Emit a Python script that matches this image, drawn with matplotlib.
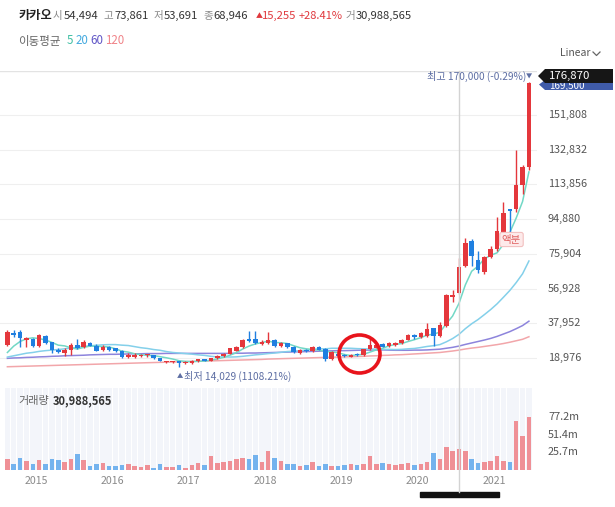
import numpy as np
import matplotlib
matplotlib.use('Agg')
import matplotlib.pyplot as plt
import matplotlib.transforms as mtrans
from matplotlib.patches import Ellipse, Rectangle, Polygon
from matplotlib.lines import Line2D

plt.rcParams['font.family'] = ['Noto Sans CJK KR', 'DejaVu Sans']

# ---------------- data (prices in thousand KRW, volume in millions) ----------------
years = ['2015', '2016', '2017', '2018', '2019', '2020', '2021']
year_pos = [4.5, 16.5, 28.5, 40.5, 52.5, 64.5, 76.5]

open_ = [26.0, 32.8, 33.3, 28.6, 29.3, 25.4, 30.8, 27.7, 23.5, 21.7,
         23.5, 26.2, 25.1, 27.4, 25.8, 23.5, 24.9, 24.2, 22.8, 19.4,
         19.6, 20.0, 20.6, 20.6, 18.9, 16.9, 16.9, 17.2, 16.3, 16.5,
         17.4, 18.2, 17.6, 18.8, 20.2, 21.3, 23.0, 24.8, 29.5, 29.5,
         26.8, 27.2, 29.0, 25.5, 27.0, 25.0, 21.8, 23.3, 22.6, 25.0,
         23.8, 18.5, 21.2, 20.8, 19.7, 21.3, 20.6, 24.0, 24.5, 26.5,
         25.5, 26.1, 27.0, 29.0, 31.5, 30.3, 31.0, 35.2, 31.0, 36.5,
         52.4, 54.494, 69.2, 82.9, 72.5, 66.1, 74.3, 78.3, 88.0, 100.2,
         100.5, 113.4, 123.4]
high = [34.4, 34.2, 34.5, 30.2, 29.9, 32.2, 31.3, 27.9, 24.4, 24.4,
        27.2, 29.5, 29.0, 27.7, 26.6, 26.2, 25.4, 24.6, 23.2, 21.7,
        21.5, 21.2, 21.4, 20.8, 19.1, 17.6, 17.5, 17.4, 17.2, 17.7,
        18.5, 18.5, 19.0, 20.6, 21.9, 24.6, 25.4, 29.5, 33.9, 33.9,
        29.0, 33.0, 29.6, 27.7, 27.4, 25.3, 23.8, 23.9, 25.6, 25.5,
        24.2, 22.6, 21.6, 21.0, 20.9, 21.6, 24.0, 30.0, 26.8, 27.0,
        27.5, 27.8, 29.2, 31.9, 32.0, 33.0, 38.2, 35.5, 38.8, 54.0,
        56.1, 73.861, 84.3, 84.0, 77.6, 75.0, 80.0, 96.1, 104.0, 100.5,
        132.6, 124.5, 170.0]
low = [25.5, 30.3, 25.1, 25.2, 24.8, 25.2, 26.7, 21.7, 21.7, 19.9,
       20.5, 23.9, 24.4, 25.6, 22.6, 23.0, 23.0, 22.4, 19.0, 19.2,
       19.2, 19.6, 19.8, 18.6, 17.2, 16.4, 16.2, 14.029, 15.6, 15.8,
       16.8, 17.2, 17.2, 18.6, 19.8, 21.0, 22.6, 24.3, 27.9, 26.8,
       26.3, 26.8, 25.0, 25.2, 24.6, 21.8, 21.4, 22.2, 22.4, 23.3,
       17.6, 18.0, 19.8, 19.8, 19.4, 20.1, 20.3, 23.6, 24.2, 24.8,
       25.0, 25.8, 26.7, 28.6, 29.6, 30.0, 30.6, 25.5, 30.5, 35.8,
       49.7, 53.691, 68.5, 69.2, 65.6, 65.0, 73.5, 77.5, 86.0, 88.0,
       99.0, 108.5, 122.0]
close = [33.3, 31.5, 29.7, 29.9, 25.4, 31.7, 27.2, 23.5, 22.1, 23.5,
         26.2, 24.4, 27.7, 25.8, 23.0, 24.9, 23.4, 22.8, 19.4, 20.4,
         20.6, 20.6, 21.0, 18.9, 17.6, 17.3, 17.3, 16.2, 16.9, 17.4,
         18.2, 17.6, 18.8, 20.3, 21.4, 24.2, 24.8, 29.0, 28.1, 27.2,
         27.7, 29.0, 25.4, 27.2, 25.0, 22.0, 23.3, 22.6, 25.0, 23.6,
         18.2, 22.2, 20.2, 20.1, 20.6, 20.4, 23.7, 26.0, 26.3, 25.2,
         27.0, 27.3, 28.8, 31.5, 30.3, 32.5, 34.6, 31.0, 37.0, 53.4,
         53.6, 68.946, 81.6, 74.7, 67.0, 74.0, 78.3, 88.5, 98.0, 99.2,
         113.4, 123.4, 169.5]
volume = [15.9, 8.2, 17.8, 13.5, 8.2, 14.5, 8.2, 15.9, 14.5, 12.0,
          15.9, 22.6, 14.5, 5.8, 8.2, 9.6, 6.3, 6.3, 7.2, 8.2,
          5.8, 4.8, 7.2, 3.4, 8.2, 4.8, 4.8, 7.2, 3.4, 7.2,
          9.6, 7.2, 20.7, 9.6, 12.0, 13.0, 15.9, 17.8, 15.9, 21.7,
          12.0, 27.5, 17.8, 13.0, 8.2, 8.2, 6.3, 7.2, 11.1, 5.8,
          8.2, 5.8, 5.8, 7.2, 8.2, 7.2, 8.2, 20.2, 8.2, 10.6,
          8.2, 7.2, 8.2, 9.6, 7.2, 8.7, 12.0, 24.1, 15.9, 32.8,
          27.5, 30.99, 27.5, 15.9, 9.6, 12.0, 13.0, 20.7, 13.0, 11.1,
          70.8, 49.6, 77.1]
ma5 = [22.0, 25.5, 28.0, 29.5, 30.0, 29.6, 28.8, 27.5, 26.0, 25.6,
       24.5, 23.9, 24.8, 25.5, 25.4, 25.2, 25.0, 24.0, 22.7, 22.2,
       21.3, 20.8, 20.4, 20.3, 19.7, 19.1, 18.4, 17.5, 17.1, 17.0,
       17.2, 17.3, 17.8, 18.5, 19.3, 20.5, 21.9, 23.9, 25.5, 26.7,
       27.4, 28.2, 27.5, 27.3, 26.9, 25.7, 24.6, 24.0, 23.6, 23.3,
       22.5, 22.3, 21.8, 20.9, 20.3, 20.7, 21.0, 22.2, 23.4, 24.3,
       25.6, 26.4, 26.9, 28.0, 29.0, 30.1, 31.5, 32.0, 33.1, 37.7,
       41.9, 48.8, 58.9, 66.4, 69.2, 73.2, 75.1, 76.5, 81.2, 87.6,
       95.5, 104.5, 120.7]
ma20 = [19.5, 20.2, 20.9, 21.6, 22.0, 22.6, 23.0, 23.3, 23.6, 24.0,
        24.4, 24.8, 25.3, 25.7, 25.9, 26.2, 26.3, 26.3, 26.0, 25.8,
        25.2, 24.6, 24.2, 23.6, 23.2, 22.5, 22.0, 21.7, 21.4, 21.1,
        20.7, 20.4, 19.9, 19.6, 19.6, 19.5, 19.6, 19.9, 20.3, 20.7,
        21.0, 21.4, 21.7, 22.1, 22.5, 22.7, 23.0, 23.3, 23.7, 24.0,
        24.0, 24.3, 24.3, 24.3, 24.3, 24.1, 24.0, 23.9, 23.8, 23.7,
        23.7, 23.6, 23.7, 24.0, 24.2, 24.7, 25.3, 25.7, 26.3, 27.8,
        29.6, 31.9, 35.0, 37.7, 40.0, 42.7, 45.5, 48.6, 52.2, 55.9,
        60.2, 65.0, 72.0]
ma60 = [18.8, 19.0, 19.1, 19.3, 19.4, 19.6, 19.7, 19.9, 20.0, 20.2,
        20.3, 20.4, 20.5, 20.7, 20.8, 20.9, 21.0, 21.0, 21.1, 21.2,
        21.3, 21.3, 21.4, 21.4, 21.4, 21.5, 21.5, 21.5, 21.5, 21.5,
        21.5, 21.5, 21.5, 21.5, 21.5, 21.5, 21.6, 21.6, 21.7, 21.7,
        21.8, 21.9, 22.0, 22.1, 22.2, 22.3, 22.4, 22.5, 22.6, 22.7,
        22.8, 22.9, 23.0, 23.0, 23.1, 23.2, 23.3, 23.3, 23.4, 23.4,
        23.3, 23.2, 23.2, 23.2, 23.3, 23.3, 23.4, 23.6, 23.8, 24.3,
        24.8, 25.5, 26.4, 27.2, 28.0, 28.8, 29.7, 30.8, 32.1, 33.4,
        35.0, 36.7, 39.1]
ma120 = [14.2, 14.3, 14.4, 14.5, 14.6, 14.7, 14.8, 14.9, 15.0, 15.1,
         15.2, 15.3, 15.4, 15.5, 15.6, 15.7, 15.8, 15.9, 16.0, 16.1,
         16.2, 16.3, 16.4, 16.5, 16.6, 16.7, 16.8, 16.9, 17.0, 17.1,
         17.2, 17.3, 17.4, 17.5, 17.6, 17.7, 17.8, 17.9, 18.0, 18.1,
         18.2, 18.4, 18.5, 18.6, 18.7, 18.8, 18.9, 19.0, 19.1, 19.2,
         19.3, 19.4, 19.5, 19.6, 19.7, 19.8, 19.9, 20.1, 20.2, 20.4,
         20.5, 20.7, 20.8, 21.0, 21.2, 21.4, 21.6, 21.8, 22.0, 22.4,
         22.8, 23.3, 23.9, 24.4, 24.8, 25.3, 25.8, 26.3, 26.9, 27.6,
         28.4, 29.2, 30.6]
price_ticks = [18976, 37952, 56928, 75904, 94880, 113856, 132832, 151808]
vol_ticks = [25.73, 51.46, 77.2]
vol_tick_labels = ['25.7m', '51.4m', '77.2m']

# ---------------- figure ----------------
W, H = 615, 507
fig = plt.figure(figsize=(W / 100, H / 100), dpi=100)
fig.patch.set_facecolor('white')


def fx(px):
    return px / W


def fy(py):
    return 1 - py / H


RED = '#e4373c'
BLUE = '#1f7fe0'
VRED = '#ef9096'
VBLUE = '#74b3ee'

o = np.array(open_) * 1000
h = np.array(high) * 1000
l = np.array(low) * 1000
c = np.array(close) * 1000
n = len(c)
idx = np.arange(n)
xl, xr = -7.4 / 6.36, (537 - 7.4) / 6.36

# price axes
ax = fig.add_axes([0, fy(387), fx(537), fy(71) - fy(387)])
ax.set_xlim(xl, xr)
ax.set_ylim(3130, 175850)
for s in ax.spines.values():
    s.set_visible(False)
ax.set_xticks([])
ax.set_yticks([])
for v in price_ticks:
    ax.axhline(v, color='#efefef', lw=0.8, zorder=0)
ax.axhline(175850, color='#e3e3e3', lw=1.0, zorder=0)

for arr, col in [(ma120, '#f2a6aa'), (ma60, '#8d84dc'), (ma20, '#84d0ea'), (ma5, '#72d8c6')]:
    ax.plot(idx, np.array(arr) * 1000, color=col, lw=1.1, zorder=2)

up = c >= o
cols = np.where(up, RED, BLUE)
ax.vlines(idx, l, h, colors=cols, lw=1.0, zorder=3)
body_b = np.minimum(o, c)
body_h = np.maximum(np.abs(c - o), 450)
ax.bar(idx, body_h, bottom=body_b, width=0.72, color=cols, lw=0, zorder=4)

tr = mtrans.blended_transform_factory(ax.transAxes, ax.transData)
for v in price_ticks:
    ax.text(548 / 537, v, f'{v:,}', transform=tr, ha='left', va='center',
            fontsize=7.8, color='#555555', clip_on=False)

# volume axes
vax = fig.add_axes([0, fy(470.1), fx(537), fy(388) - fy(470.1)])
vax.set_xlim(xl, xr)
vax.set_ylim(0, 118.7)
for s in vax.spines.values():
    s.set_visible(False)
vax.set_xticks([])
vax.set_yticks([])
vax.bar(idx, [118.7] * n, width=0.86, color='#f3f5fa', lw=0, zorder=0)
vcols = np.where(up, VRED, VBLUE)
vax.bar(idx, volume, width=0.72, color=vcols, lw=0, zorder=2)
trv = mtrans.blended_transform_factory(vax.transAxes, vax.transData)
for v, lab in zip(vol_ticks, vol_tick_labels):
    vax.text(548 / 537, v, lab, transform=trv, ha='left', va='center',
             fontsize=7.8, color='#555555', clip_on=False)
yr_tr = mtrans.blended_transform_factory(vax.transData, fig.transFigure)
for p, yl in zip(year_pos, years):
    vax.text(p, fy(481), yl, transform=yr_tr, ha='center', va='center',
             fontsize=7.6, color='#8a8a8a', clip_on=False)

fig.text(fx(18), fy(401), '거래량', ha='left', va='center', fontsize=8, color='#666666')
fig.text(fx(53), fy(401), '30,988,565', ha='left', va='center', fontsize=8,
         color='#333333', fontweight='bold')

# crosshair and overlays
fig.add_artist(Line2D([fx(459), fx(459)], [fy(71), fy(492)], color='#d3d3d3', lw=1.0))
fig.add_artist(Rectangle((fx(420), fy(497)), 79 / W, 5 / H, color='#111111'))
fig.add_artist(Ellipse((fx(359.5), fy(354)), 41 / W, 38 / H, fill=False,
                       ec='#e8141c', lw=2.6))

fig.text(fx(511.5), fy(239.5), '액분', ha='center', va='center', fontsize=7.5,
         color='#e06262', bbox=dict(boxstyle='round,pad=0.2', fc='#fdeaea',
                                    ec='#f2c0c0', lw=0.8))
fig.text(fx(526), fy(76.5), '최고 170,000 (-0.29%)', ha='right', va='center',
         fontsize=7.3, color='#5d6ea3')
fig.text(fx(532), fy(76.5), '▼', ha='right', va='center', fontsize=4.5, color='#5d6ea3')
fig.text(fx(177), fy(376.5), '▲', ha='left', va='center', fontsize=4.5, color='#5d6ea3')
fig.text(fx(184), fy(376), '최저 14,029 (1108.21%)', ha='left', va='center',
         fontsize=7.3, color='#5d6ea3')

# right-side value tags (the blue close tag sits partly under the dark cursor tag)
blue_tag = Polygon([(fx(539), fy(84.5)), (fx(545), fy(80)), (fx(613), fy(80)),
                    (fx(613), fy(90)), (fx(545), fy(90))], closed=True,
                   fc='#3f5ba9', ec='none')
fig.add_artist(blue_tag)
bt = fig.text(fx(549), fy(85.5), '169,500', ha='left', va='center', fontsize=7.0,
              color='white')
bt.set_clip_path(Rectangle((fx(538), fy(90)), 75 / W, 7 / H, transform=fig.transFigure))
dark_tag = Polygon([(fx(538), fy(76)), (fx(545), fy(69)), (fx(613), fy(69)),
                    (fx(613), fy(83)), (fx(545), fy(83))], closed=True,
                   fc='#161616', ec='none', zorder=5)
fig.add_artist(dark_tag)
t = fig.text(fx(549), fy(76.0), '176,870', ha='left', va='center', fontsize=8.2,
             color='white')
t.set_zorder(6)

# Linear selector
fig.text(fx(560), fy(53), 'Linear', ha='left', va='center', fontsize=7.5, color='#555555')
fig.add_artist(Line2D([fx(593), fx(596.5), fx(600)], [fy(52), fy(55.5), fy(52)],
                      color='#666666', lw=0.9))

# header
fig.text(fx(18.3), fy(16), '카카오', ha='left', va='center', fontsize=8.8,
         color='#222222', fontweight='bold')
labels = [(62.8, '시', 63.3, '54,494'), (113.5, '고', 114.0, '73,861'),
          (162.8, '저', 163.3, '53,691'), (212.8, '종', 213.3, '68,946'),
          (355.0, '거', 355.5, '30,988,565')]
for lx, lab, nx, num in labels:
    fig.text(fx(lx), fy(16), lab, ha='right', va='center', fontsize=7.6, color='#8a8a8a')
    fig.text(fx(nx), fy(16), num, ha='left', va='center', fontsize=8.1, color='#333333')
fig.text(fx(255.5), fy(16.5), '▲', ha='left', va='center', fontsize=5, color='#e0383d')
fig.text(fx(262.3), fy(16), '15,255', ha='left', va='center', fontsize=8.1, color='#e0383d')
fig.text(fx(299.0), fy(16), '+28.41%', ha='left', va='center', fontsize=8.0, color='#e0383d')

legend = [(18.3, '이동평균', '#666666'), (66.5, '5', '#3fbfa3'), (76.0, '20', '#45aadf'),
          (90.0, '60', '#5f55c6'), (105.0, '120', '#f08489')]
for x, s, col in legend:
    fig.text(fx(x), fy(41), s, ha='left', va='center', fontsize=8.3, color=col)

fig.savefig('out.png', dpi=100, facecolor='white')
